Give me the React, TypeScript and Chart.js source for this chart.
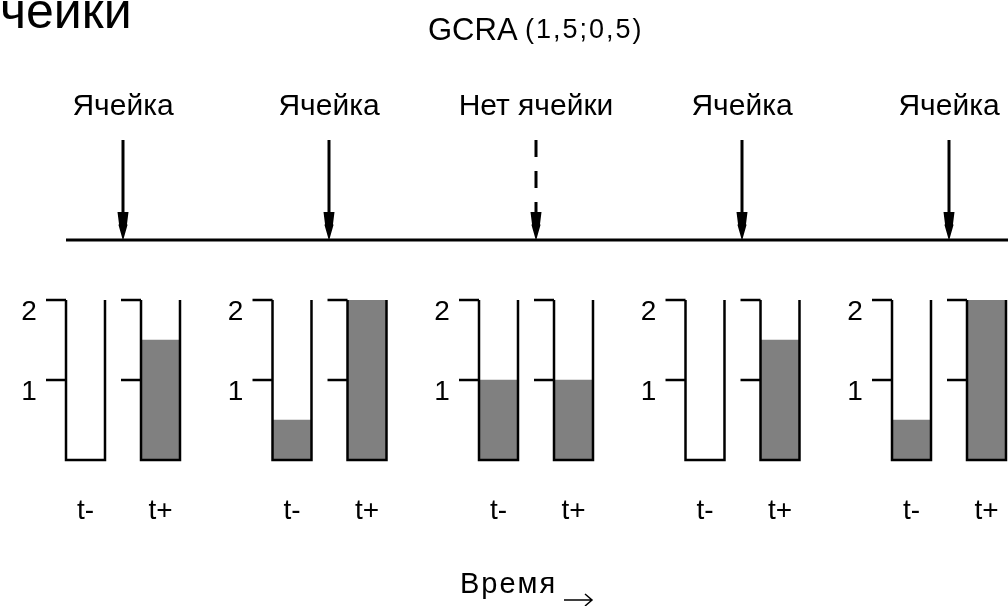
import React, { useEffect, useRef } from "react";
import { Chart, registerables } from "chart.js";

Chart.register(...registerables);

// ---- data ----
const eventLabels = ["Ячейка", "Ячейка", "Нет ячейки", "Ячейка", "Ячейка"];
const cellArrived = [true, true, false, true, true];
const levelBefore = [0, 0.5, 1, 0, 0.5]; // t-
const levelAfter = [1.5, 2, 1, 1.5, 2]; // t+
const levelTicks = [1, 2];
const phaseLabels = ["t-", "t+"];
const chartTitle = "GCRA";
const chartParams = "(1,5;0,5)";
const pageHeading = "чейки";
const timeLabel = "Время";

// layout (not data)
const PHASE_OFFSET = 0.1816; // event units between event and each bucket centre
const BUCKET_HALF = 0.0944; // event units
const FONT = "'Liberation Sans', Arial, sans-serif";

const fillPoints: { x: number; y: number }[] = [];
levelBefore.forEach((v, i) => fillPoints.push({ x: i - PHASE_OFFSET, y: v }));
levelAfter.forEach((v, i) => fillPoints.push({ x: i + PHASE_OFFSET, y: v }));

const diagramPlugin = {
  id: "gcraDiagram",
  afterDatasetsDraw(chart: any) {
    const ctx: CanvasRenderingContext2D = chart.ctx;
    const xs = chart.scales.x;
    const ys = chart.scales.y;
    const px = (v: number) => xs.getPixelForValue(v);
    const py = (v: number) => ys.getPixelForValue(v);
    const bw = px(BUCKET_HALF) - px(0);
    const tickLen = 20;
    const timelineY = 240;
    const arrowTop = 140;

    ctx.save();
    ctx.strokeStyle = "#000";
    ctx.fillStyle = "#000";
    ctx.lineCap = "butt";

    // heading text
    ctx.textAlign = "left";
    ctx.textBaseline = "alphabetic";
    ctx.font = `50px ${FONT}`;
    ctx.fillText(pageHeading, 0, 28);

    ctx.font = `31px ${FONT}`;
    ctx.fillText(chartTitle, 428, 40);
    ctx.font = `27px ${FONT}`;
    (ctx as any).letterSpacing = "2px";
    ctx.fillText(chartParams, 525, 38);
    (ctx as any).letterSpacing = "0px";

    // timeline
    const firstLeft = px(0 - PHASE_OFFSET - BUCKET_HALF);
    ctx.lineWidth = 3;
    ctx.beginPath();
    ctx.moveTo(firstLeft, timelineY);
    ctx.lineTo(chart.width, timelineY);
    ctx.stroke();

    eventLabels.forEach((lab, i) => {
      const ax = Math.round(px(i));
      // label
      ctx.font = `30px ${FONT}`;
      ctx.textAlign = "center";
      ctx.textBaseline = "alphabetic";
      ctx.fillText(lab, ax, 115);

      // arrow shaft
      ctx.lineWidth = 3;
      if (cellArrived[i]) ctx.setLineDash([]);
      else ctx.setLineDash([17, 14]);
      ctx.beginPath();
      ctx.moveTo(ax, arrowTop);
      ctx.lineTo(ax, 214);
      ctx.stroke();
      ctx.setLineDash([]);
      // arrow head
      ctx.beginPath();
      ctx.moveTo(ax - 5.5, 212);
      ctx.lineTo(ax + 5.5, 212);
      ctx.lineTo(ax + 4, 224);
      ctx.lineTo(ax + 4.5, 225);
      ctx.lineTo(ax + 0.5, 239);
      ctx.lineTo(ax - 0.5, 239);
      ctx.lineTo(ax - 4.5, 225);
      ctx.lineTo(ax - 4, 224);
      ctx.closePath();
      ctx.fill();

      // buckets
      [-PHASE_OFFSET, PHASE_OFFSET].forEach((off, k) => {
        const cx = px(i + off);
        const l = cx - bw;
        const r = cx + bw;
        const top = py(2);
        const bot = py(0);
        ctx.lineWidth = 2.5;
        ctx.beginPath();
        ctx.moveTo(l, top);
        ctx.lineTo(l, bot);
        ctx.lineTo(r, bot);
        ctx.lineTo(r, top);
        ctx.stroke();
        levelTicks.forEach((t) => {
          ctx.beginPath();
          ctx.moveTo(l - tickLen, py(t));
          ctx.lineTo(l, py(t));
          ctx.stroke();
        });
        ctx.font = `28px ${FONT}`;
        ctx.textAlign = "center";
        ctx.textBaseline = "alphabetic";
        ctx.fillText(phaseLabels[k], cx, 519);
      });

      // level numbers
      ctx.font = `28px ${FONT}`;
      ctx.textAlign = "center";
      ctx.textBaseline = "middle";
      const nx = px(i) - 94;
      levelTicks.forEach((t) => {
        ctx.fillText(String(t), nx, py(t) + 12);
      });
    });

    // time label and arrow
    ctx.font = `29px ${FONT}`;
    ctx.textAlign = "left";
    ctx.textBaseline = "alphabetic";
    (ctx as any).letterSpacing = "2px";
    ctx.fillText(timeLabel, 460, 593);
    (ctx as any).letterSpacing = "0px";
    ctx.lineWidth = 1.5;
    ctx.beginPath();
    ctx.moveTo(564, 600);
    ctx.lineTo(592, 600);
    ctx.moveTo(585, 594);
    ctx.lineTo(592, 600);
    ctx.lineTo(585, 606);
    ctx.stroke();

    ctx.restore();
  },
};

export default function App() {
  const ref = useRef<HTMLCanvasElement | null>(null);
  useEffect(() => {
    document.body.style.margin = "0";
    const canvas = ref.current!;
    const xMin = -123 / 206.5;
    const xMax = xMin + 1008 / 206.5;
    const chart = new Chart(canvas, {
      type: "bar",
      data: {
        datasets: [
          {
            data: fillPoints as any,
            backgroundColor: "#808080",
            borderWidth: 0,
            barThickness: 39,
          },
        ],
      },
      options: {
        animation: false,
        responsive: false,
        devicePixelRatio: 1,
        layout: { padding: { left: 0, right: 0, top: 300, bottom: 146 } },
        plugins: { legend: { display: false }, tooltip: { enabled: false }, title: { display: false } },
        scales: {
          x: { type: "linear", min: xMin, max: xMax, display: false, offset: false },
          y: { type: "linear", min: 0, max: 2, display: false },
        },
      },
      plugins: [diagramPlugin],
    });
    return () => chart.destroy();
  }, []);
  return (
    <div style={{ position: "absolute", left: 0, top: 0, width: 1008, height: 606, background: "#fff" }}>
      <canvas ref={ref} width={1008} height={606} />
    </div>
  );
}
